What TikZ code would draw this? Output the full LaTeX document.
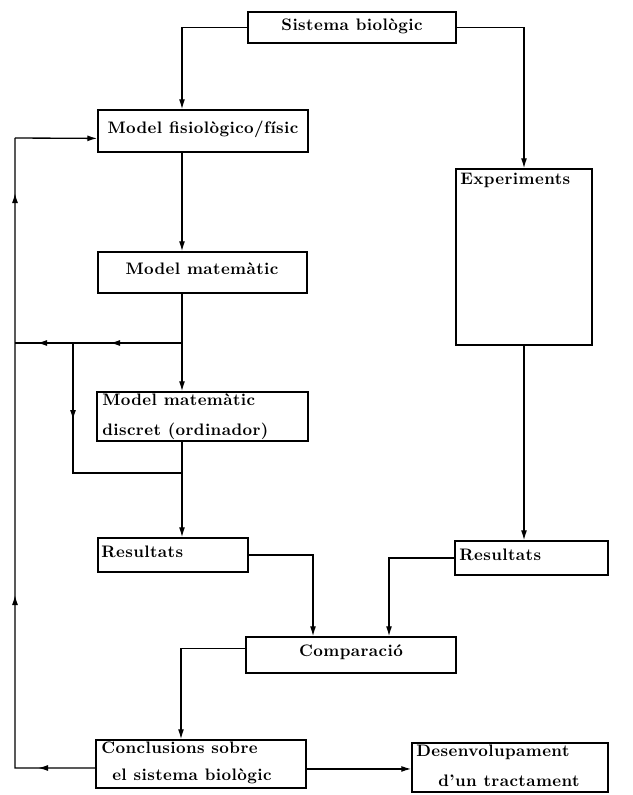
\documentclass[tikz,border=0pt]{standalone}
\usepackage{fontspec}
\newfontfamily\bx{lmroman10-bold.otf}[LetterSpace=2.5]
\usetikzlibrary{arrows.meta,calc,fit}
\begin{document}
\begin{tikzpicture}[x=0.75pt,y=-0.75pt,
  box/.style={draw,line width=1.1pt,inner sep=0pt},
  txt/.style={inner sep=0pt,anchor=mid west,font=\bx\fontsize{12.5}{14}\selectfont},
  ctxt/.style={inner sep=0pt,anchor=mid,font=\bx\fontsize{12.5}{14}\selectfont},
  ln/.style={line width=1pt},
  arr/.style={line width=1pt,-{Latex[length=7.5pt,width=4.5pt]}}]
\useasboundingbox (0,0) rectangle (632,795);
% boxes
\node[box,fit={(248,12) (456,43)}] (sis) {};
\node[box,fit={(98,110) (308,152)}] (fis) {};
\node[box,fit={(98,252) (307,293)}] (mat) {};
\node[box,fit={(97,392) (308,441)}] (dis) {};
\node[box,fit={(98,538) (248,572)}] (resL) {};
\node[box,fit={(456,169) (592,345)}] (exp) {};
\node[box,fit={(455,541) (608,575)}] (resR) {};
\node[box,fit={(246,637) (456,673)}] (comp) {};
\node[box,fit={(96,740) (306,788)}] (conc) {};
\node[box,fit={(412,743) (608,792)}] (des) {};
% texts
\node[ctxt] (tSis) at (352,28) {Sistema biològic};
\node[ctxt] (tFis) at (203,131) {Model fisiològico/físic};
\node[ctxt] (tMat) at (202,272) {Model matemàtic};
\node[ctxt] (tComp) at (351,654) {Comparació};
\node[txt] (tExp) at (460,182) {Experiments};
\node[txt] (tResL) at (101,555) {Resultats};
\node[txt] (tResR) at (459,558) {Resultats};
\node[txt] (tDis1) at (102,403) {Model matemàtic};
\node[txt] (tDis2) at (102,433) {discret (ordinador)};
\node[txt] (tCon1) at (101,751) {Conclusions sobre};
\node[txt] (tCon2) at (112,778) {el sistema biològic};
\node[txt] (tDes1) at (416,754) {Desenvolupament};
\node[txt] (tDes2) at (438,784) {d’un tractament};
% coordinates
\coordinate (cL) at (182,0);
\coordinate (cM1) at (313,0);
\coordinate (cM2) at (389,0);
\coordinate (cC) at (181,0);
\coordinate (j1) at (182,343);
\coordinate (a1) at (110,343);
\coordinate (a2) at (37,343);
\coordinate (lp1) at (15,343);
\coordinate (b0) at (73,343);
\coordinate (b1) at (73,420);
\coordinate (b2) at (73,473);
\coordinate (j2) at (182,473);
\coordinate (l0) at (38,768);
\coordinate (lb) at (15,768);
\coordinate (u1) at (15,595);
\coordinate (u2) at (15,193);
\coordinate (lt) at (15,138);
% connectors
\draw[arr] (sis.west) -| (cL |- fis.north);
\draw[arr] (sis.east) -| (exp.north);
\draw[arr] (cL |- fis.south) -- (cL |- mat.north);
\draw[arr] (cL |- mat.south) -- (cL |- dis.north);
\draw[ln] (j1) -- (lp1);
\draw[arr] ($(a1)+(10,0)$) -- (a1);
\draw[arr] ($(a2)+(10,0)$) -- (a2);
\draw[ln] (b0) -- (b2) -- (j2);
\draw[arr] ($(b1)+(0,-10)$) -- (b1);
\draw[arr] (cL |- dis.south) -- (cL |- resL.north);
\draw[arr] (resL.east) -| (cM1 |- comp.north);
\draw[arr] (resR.west) -| (cM2 |- comp.north);
\draw[arr] (exp.south) -- (exp.south |- resR.north);
\coordinate (pC) at ($(comp.north west)!0.33!(comp.south west)$);
\draw[arr] (pC) -| (cC |- conc.north);
\coordinate (pW) at ($(conc.north west)!0.58!(conc.south west)$);
\coordinate (pF) at ($(fis.north west)!0.67!(fis.south west)$);
\draw[ln] (pW) -- (lb) -- (lt);
\draw[arr] (lt) -- (pF);
\draw[arr] ($(l0)+(10,0)$) -- (l0);
\draw[arr] ($(u1)+(0,10)$) -- (u1);
\draw[arr] ($(u2)+(0,10)$) -- (u2);
\coordinate (pE) at ($(conc.north east)!0.6!(conc.south east)$);
\draw[arr] (pE) -- (pE -| des.west);
\end{tikzpicture}
\end{document}
